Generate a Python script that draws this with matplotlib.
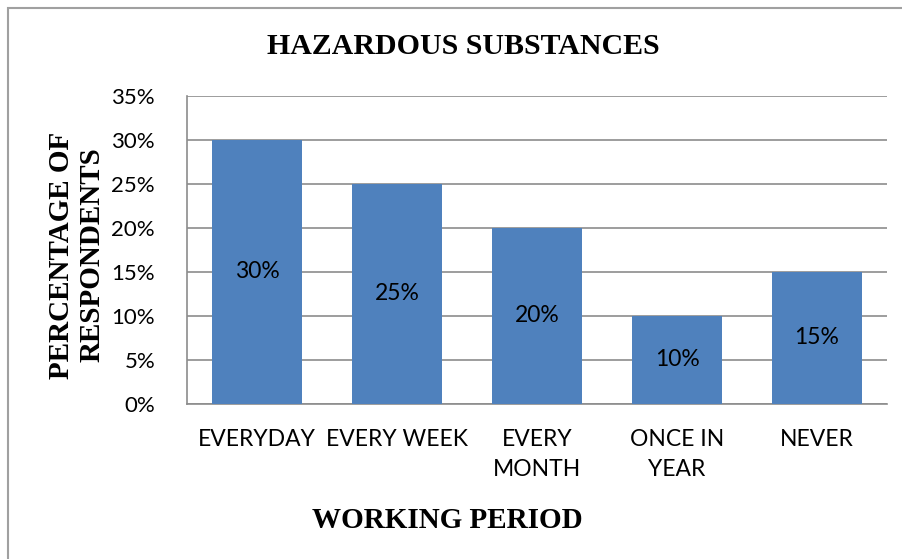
import matplotlib
matplotlib.use("Agg")
import matplotlib.pyplot as plt
from matplotlib.patches import Rectangle

categories = ["EVERYDAY", "EVERY WEEK", "EVERY\nMONTH", "ONCE IN\nYEAR", "NEVER"]
values = [30, 25, 20, 10, 15]
yticks = [0, 5, 10, 15, 20, 25, 30, 35]

W, H = 903, 559
fig = plt.figure(figsize=(W / 100, H / 100), dpi=100)
fig.patches.append(Rectangle((8 / W, -0.1), 1.2, (H - 8) / H + 0.1, transform=fig.transFigure,
                             fill=False, edgecolor="#a0a0a0", linewidth=1.5))

ax = fig.add_axes([187 / W, 1 - 404 / H, 700 / W, 308 / H])
x = range(len(categories))
bars = ax.bar(x, values, width=0.64, color="#4f81bd", zorder=3)
for xi, v in zip(x, values):
    ax.text(xi, v / 2, f"{v}%", ha="center", va="center", fontsize=16.5, family="Lato", zorder=4)

ax.set_xlim(-0.5, len(categories) - 0.5)
ax.set_ylim(0, 35)
ax.set_yticks(yticks)
ax.set_yticklabels([f"{t}%" for t in yticks], fontsize=16, family="Lato")
ax.set_xticks(list(x))
ax.set_xticklabels(categories, fontsize=16.5, family="Lato", linespacing=1.5)
ax.tick_params(axis="x", length=0, pad=18)
ax.tick_params(axis="y", length=0, pad=23)
ax.grid(axis="y", color="#8c8c8c", linewidth=1.2, zorder=0)
for s in ["top", "right"]:
    ax.spines[s].set_visible(False)
for s in ["left", "bottom"]:
    ax.spines[s].set_color("#8c8c8c")
    ax.spines[s].set_linewidth(1.2)

fig.text(463 / W, 1 - 46 / H, "HAZARDOUS SUBSTANCES", ha="center", va="center",
         fontsize=21.5, fontweight="bold", family="Liberation Serif")
fig.text(447 / W, 1 - 521 / H, "WORKING PERIOD", ha="center", va="center",
         fontsize=21, fontweight="bold", family="Liberation Serif")
fig.text(77 / W, 1 - 255 / H, "PERCENTAGE OF\nRESPONDENTS", ha="center", va="center",
         rotation=90, fontsize=21, fontweight="bold", family="Liberation Serif", linespacing=1.15)

fig.savefig("out.png", dpi=100)
